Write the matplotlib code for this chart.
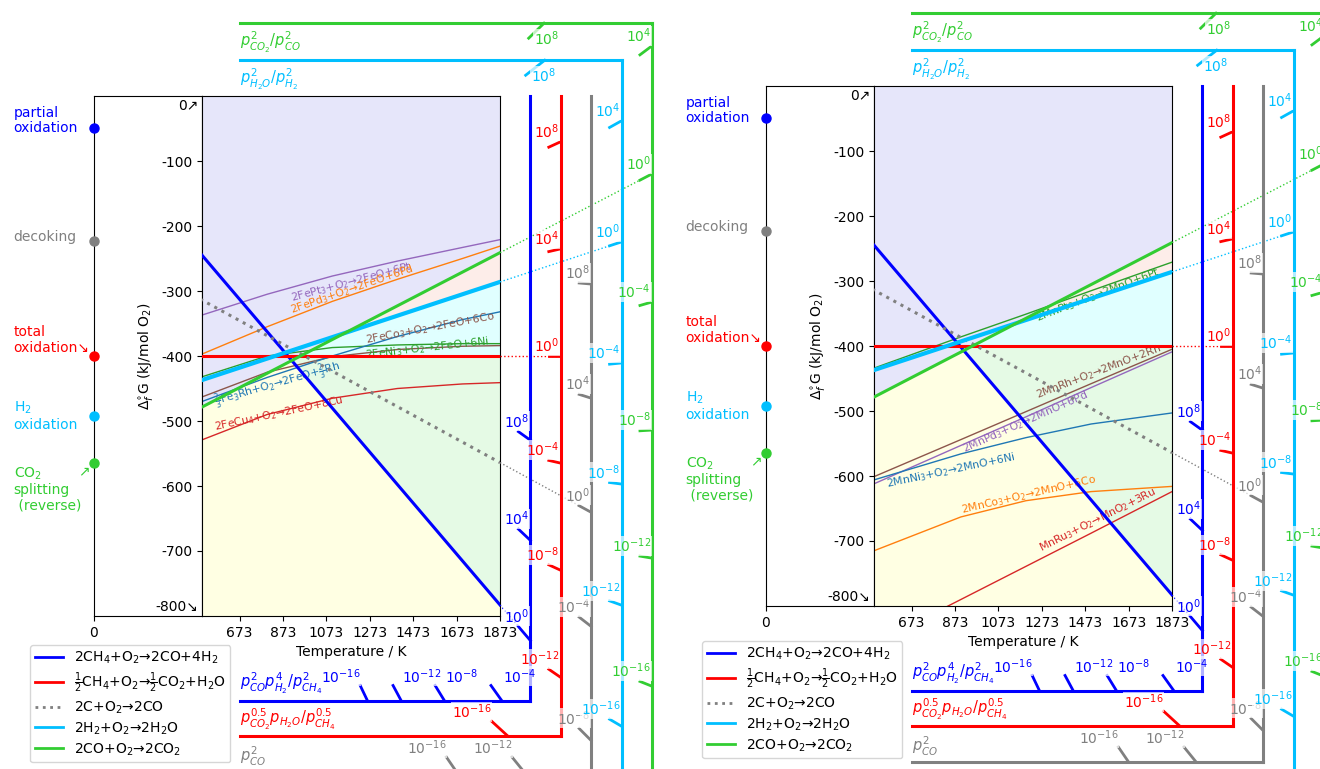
import numpy as np
import matplotlib
matplotlib.use("Agg")
import matplotlib.pyplot as plt
from matplotlib.lines import Line2D

plt.rcParams["axes.unicode_minus"] = False
plt.rcParams["font.family"] = ["DejaVu Sans"]
plt.rcParams["font.size"] = 10
plt.rcParams["mathtext.fontset"] = "dejavusans"

# ---------------------------------------------------------------- data
T_ENDS = [0, 1873]                       # K : end points of the straight gas lines
ch4_partial = [-49, -783]                # kJ/mol O2 at T_ENDS
ch4_total = [-400, -400]
decoking = [-223, -564]
h2_oxidation = [-492, -286]
co_oxidation = [-565, -241]

gas_labels = [r"2CH$_4$+O$_2$→2CO+4H$_2$",
              r"$\frac{1}{2}$CH$_4$+O$_2$→$\frac{1}{2}$CO$_2$+H$_2$O",
              r"2C+O$_2$→2CO",
              r"2H$_2$+O$_2$→2H$_2$O",
              r"2CO+O$_2$→2CO$_2$"]
scale_names = [r"$p^2_{CO}p^4_{H_2}/p^2_{CH_4}$",
               r"$p^{0.5}_{CO_2}p_{H_2O}/p^{0.5}_{CH_4}$",
               r"$p^2_{CO}$",
               r"$p^2_{H_2O}/p^2_{H_2}$",
               r"$p^2_{CO_2}/p^2_{CO}$"]
pivot_names = ["partial\noxidation", "total\noxidation↘", "decoking",
               "H$_2$\noxidation", "CO$_2$\nsplitting\n (reverse)"]
scale_exponents = [8, 4, 0, -4, -8, -12, -16]

x_ticks = [673, 873, 1073, 1273, 1473, 1673, 1873]
y_ticks = [-100, -200, -300, -400, -500, -600, -700]

fe_T = [500, 800, 1100, 1400, 1700, 1873]
fe_pt3 = [-337, -305, -277, -254, -233, -221]
fe_pd3 = [-397, -355, -316, -282, -250, -231]
fe_co3 = [-463, -425, -401, -390, -385, -384]
fe_ni3 = [-432, -400, -387, -383, -381, -381]
fe3_rh = [-470, -433, -400, -370, -344, -332]
fe_cu4 = [-529, -490, -465, -450, -443, -441]
fe_names = [r"2FePt$_3$+O$_2$→2FeO+6Pt", r"2FePd$_3$+O$_2$→2FeO+6Pd",
            r"2FeCo$_3$+O$_2$→2FeO+6Co", r"2FeNi$_3$+O$_2$→2FeO+6Ni",
            r"$\frac{2}{3}$Fe$_3$Rh+O$_2$→2FeO+$\frac{2}{3}$Rh",
            r"2FeCu$_4$+O$_2$→2FeO+8Cu"]

mn_T = [500, 900, 1200, 1500, 1873]
mn_pt3 = [-434, -386, -351, -315, -271]
mn_rh = [-601, -544, -501, -458, -405]
mn_pd3 = [-612, -553, -509, -464, -409]
mn_ni3 = [-606, -566, -541, -520, -503]
mn_co3 = [-715, -663, -638, -624, -616]
mn_ru3 = [-858, -790, -739, -688, -624]
mn_names = [r"2MnPt$_3$+O$_2$→2MnO+6Pt", r"2MnRh+O$_2$→2MnO+2Rh",
            r"2MnPd$_3$+O$_2$→2MnO+6Pd", r"2MnNi$_3$+O$_2$→2MnO+6Ni",
            r"2MnCo$_3$+O$_2$→2MnO+6Co", r"MnRu$_3$+O$_2$→MnO$_2$+3Ru"]

# ---------------------------------------------------------------- style
FIG_W, FIG_H = 1320, 769
gas_colors = ["blue", "red", "gray", "deepskyblue", "limegreen"]
R_LN10 = 8.314e-3 * np.log(10)

fig = plt.figure(figsize=(FIG_W / 100, FIG_H / 100), dpi=100)
renderer = fig.canvas.get_renderer()


def px_rect(x0, y0, x1, y1):
    return [x0 / FIG_W, 1 - y1 / FIG_H, (x1 - x0) / FIG_W, (y1 - y0) / FIG_H]


def draw_panel(x0, y0, alloy_T, alloys, alloy_cols, alloy_names, label_specs, legend_px):
    pxK = 298.0 / 1373.0
    pxG = 0.65
    axL = fig.add_axes(px_rect(x0, y0, x0 + 500 * pxK, y0 + 800 * pxG))
    ax = fig.add_axes(px_rect(x0 + 500 * pxK, y0, x0 + 1873 * pxK, y0 + 800 * pxG))
    axL.set_xlim(0, 500)
    axL.set_ylim(-800, 0)
    ax.set_xlim(500, 1873)
    ax.set_ylim(-800, 0)
    axL.set_xticks([0])
    axL.set_yticks([])
    ax.set_xticks(x_ticks)
    ax.set_yticks(y_ticks)
    ax.set_yticklabels([str(v) for v in y_ticks])
    ax.set_xlabel("Temperature / K")
    ax.text(-0.012, 0.995, "0↗", transform=ax.transAxes, ha="right", va="top")
    ax.text(-0.012, 0.004, "-800↘", transform=ax.transAxes, ha="right", va="bottom")
    axL.text(239, -400, r"$\Delta_f^{\circ}$G (kJ/mol O$_2$)", rotation=90,
             ha="center", va="center")

    gas = [ch4_partial, ch4_total, decoking, h2_oxidation, co_oxidation]
    Tg = np.linspace(500, 1873, 800)
    gB, gR, gK, gC, gG = [np.interp(Tg, T_ENDS, g) for g in gas]

    # ---- regions
    ax.fill_between(Tg, gG, 0, color="#E6E6FA", lw=0, zorder=0)
    ax.fill_between(Tg, gC, gG, where=gG > gC, color="#FDEDE9", lw=0,
                    interpolate=True, zorder=0)
    lo = np.minimum(gC, gG)
    ax.fill_between(Tg, gR, lo, where=lo > gR, color="#E0FFFF", lw=0,
                    interpolate=True, zorder=0)
    lo2 = np.minimum(lo, gR)
    ax.fill_between(Tg, gB, lo2, where=lo2 > gB, color="#E5FAE5", lw=0,
                    interpolate=True, zorder=0)
    ax.fill_between(Tg, -800, np.minimum(lo2, gB), color="#FFFFE3", lw=0, zorder=0)

    # ---- alloy curves and their labels
    for vals, col, name, (lt, lg, rot) in zip(alloys, alloy_cols, alloy_names, label_specs):
        ax.plot(alloy_T, vals, color=col, lw=1, zorder=2)
        ax.text(lt, lg, name, color=col, fontsize=7.8, rotation=rot,
                ha="center", va="center", rotation_mode="anchor", zorder=3)

    # ---- gas lines
    for i, (g, col) in enumerate(zip(gas, gas_colors)):
        ls = ":" if i == 2 else "-"
        lw = 3 if i == 3 else 2.2
        ax.plot(T_ENDS, g, color=col, lw=lw, ls=ls, zorder=4)

    # ---- nomographic scales
    toD = ax.transData
    inv = toD.inverted()
    Tleft = 673
    Tv = [1873 + 140 * (k + 1) for k in range(5)]
    Gh = [-930, -985, -1040, 55, 112]
    for i, (g, col) in enumerate(zip(gas, gas_colors)):
        H = g[0]
        s = (g[1] - g[0]) / (T_ENDS[1] - T_ENDS[0])
        top = i >= 3
        vrange = (-1400, Gh[i]) if top else (Gh[i], 0)
        ax.plot([Tv[i], Tv[i]], list(vrange), color=col, lw=2.2, clip_on=False, zorder=5)
        ax.plot([Tleft, Tv[i]], [Gh[i], Gh[i]], color=col, lw=2.2, clip_on=False, zorder=5)
        if top:
            ax.annotate(scale_names[i], xy=(Tleft, Gh[i]), xytext=(0, -7),
                        textcoords="offset pixels", ha="left", va="top",
                        color=col, fontsize=10.5, annotation_clip=False)
        else:
            ax.annotate(scale_names[i], xy=(Tleft, Gh[i]), xytext=(0, 4),
                        textcoords="offset pixels", ha="left", va="bottom",
                        color=col, fontsize=10.5, annotation_clip=False)
        piv = toD.transform((0, H))
        prev_ext = None
        ticks = []
        for e in scale_exponents:
            sl = s + e * R_LN10
            Gv = H + Tv[i] * sl
            if vrange[0] <= Gv <= vrange[1]:
                ticks.append((e, "v", Tv[i], Gv))
            elif sl != 0:
                Th = (Gh[i] - H) / sl
                if Tleft <= Th <= Tv[i]:
                    ticks.append((e, "h", Th, Gh[i]))
        ticks.sort(key=lambda t: t[2])
        for e, kind, Tt, Gt in ticks:
            p = toD.transform((Tt, Gt))
            d = p - piv
            if kind == "v":
                st = p - d * (12.0 / abs(d[0]))
            else:
                st = p - d * (15.0 / abs(d[1]))
            a, b = inv.transform(st), inv.transform(p)
            ax.plot([a[0], b[0]], [a[1], b[1]], color=col, lw=2, clip_on=False, zorder=5)
            lab = r"$10^{%d}$" % e
            kw = dict(color=col, fontsize=10, zorder=6, clip_on=False,
                      bbox=dict(boxstyle="square,pad=0.05", fc="white", ec="none", alpha=0.7))
            if kind == "v":
                q = inv.transform((p[0] - 1, max(st[1], p[1]) + 1))
                ax.text(q[0], q[1], lab, ha="right", va="bottom", **kw)
            elif not top:
                q = inv.transform((st[0], st[1]))
                t = ax.text(q[0], q[1], lab, ha="right", va="bottom", **kw)
                ext = t.get_window_extent(renderer)
                if prev_ext is not None and ext.x0 < prev_ext.x1:
                    q = inv.transform((p[0] + 1, st[1]))
                    t.set_position((q[0], q[1]))
                    t.set_ha("left")
                    ext = t.get_window_extent(renderer)
                prev_ext = ext
            else:
                q = inv.transform((st[0] + 5, p[1] - 6))
                ax.text(q[0], q[1], lab, ha="left", va="top", **kw)
            if e == 0:
                ax.plot([1873, Tt], [g[1], Gt], color=col, lw=1, ls=":",
                        clip_on=False, zorder=4)

    # ---- pivot axis (T = 0)
    offs = [7, 16, 4, 0, -26]
    for i, (g, col) in enumerate(zip(gas, gas_colors)):
        axL.plot([0], [g[0]], "o", color=col, ms=6.5, clip_on=False, zorder=6)
        pd = axL.transData.transform((0, g[0]))
        q = axL.transData.inverted().transform((pd[0] - 80, pd[1] + offs[i]))
        axL.text(q[0], q[1], pivot_names[i], color=col, ha="left", va="center",
                 linespacing=1.1, clip_on=False)
    pd = axL.transData.transform((0, co_oxidation[0]))
    q = axL.transData.inverted().transform((pd[0] - 10, pd[1] - 8))
    axL.text(q[0], q[1], "↗", color=gas_colors[4], ha="center", va="center")

    # ---- legend
    handles = [Line2D([], [], color=c, lw=2, ls=(":" if k == 2 else "-"))
               for k, c in enumerate(gas_colors)]
    ax.legend(handles, gas_labels, loc="upper left",
              bbox_to_anchor=(legend_px[0] / FIG_W, 1 - legend_px[1] / FIG_H),
              bbox_transform=fig.transFigure, borderaxespad=0, fontsize=10,
              labelspacing=0.32, borderpad=0.35)
    return ax


draw_panel(93.5, 96, fe_T,
           [fe_pt3, fe_pd3, fe_co3, fe_ni3, fe3_rh, fe_cu4],
           ["tab:purple", "tab:orange", "tab:brown", "tab:green", "tab:blue", "tab:red"],
           fe_names,
           [(1191, -286, 15), (1191, -298, 19), (1552, -357, 10.6),
            (1536, -388, 6.4), (846, -445, 16), (853, -488, 12)],
           (30, 645))

draw_panel(765.5, 86, mn_T,
           [mn_pt3, mn_rh, mn_pd3, mn_ni3, mn_co3, mn_ru3],
           ["tab:green", "tab:brown", "tab:purple", "tab:blue", "tab:orange", "tab:red"],
           mn_names,
           [(1533, -321, 21), (1533, -440, 21), (1197, -517, 24),
            (852, -591, 12), (1211, -629, 13), (1529, -668, 26.6)],
           (702, 641))

fig.savefig("out.png", dpi=100)
